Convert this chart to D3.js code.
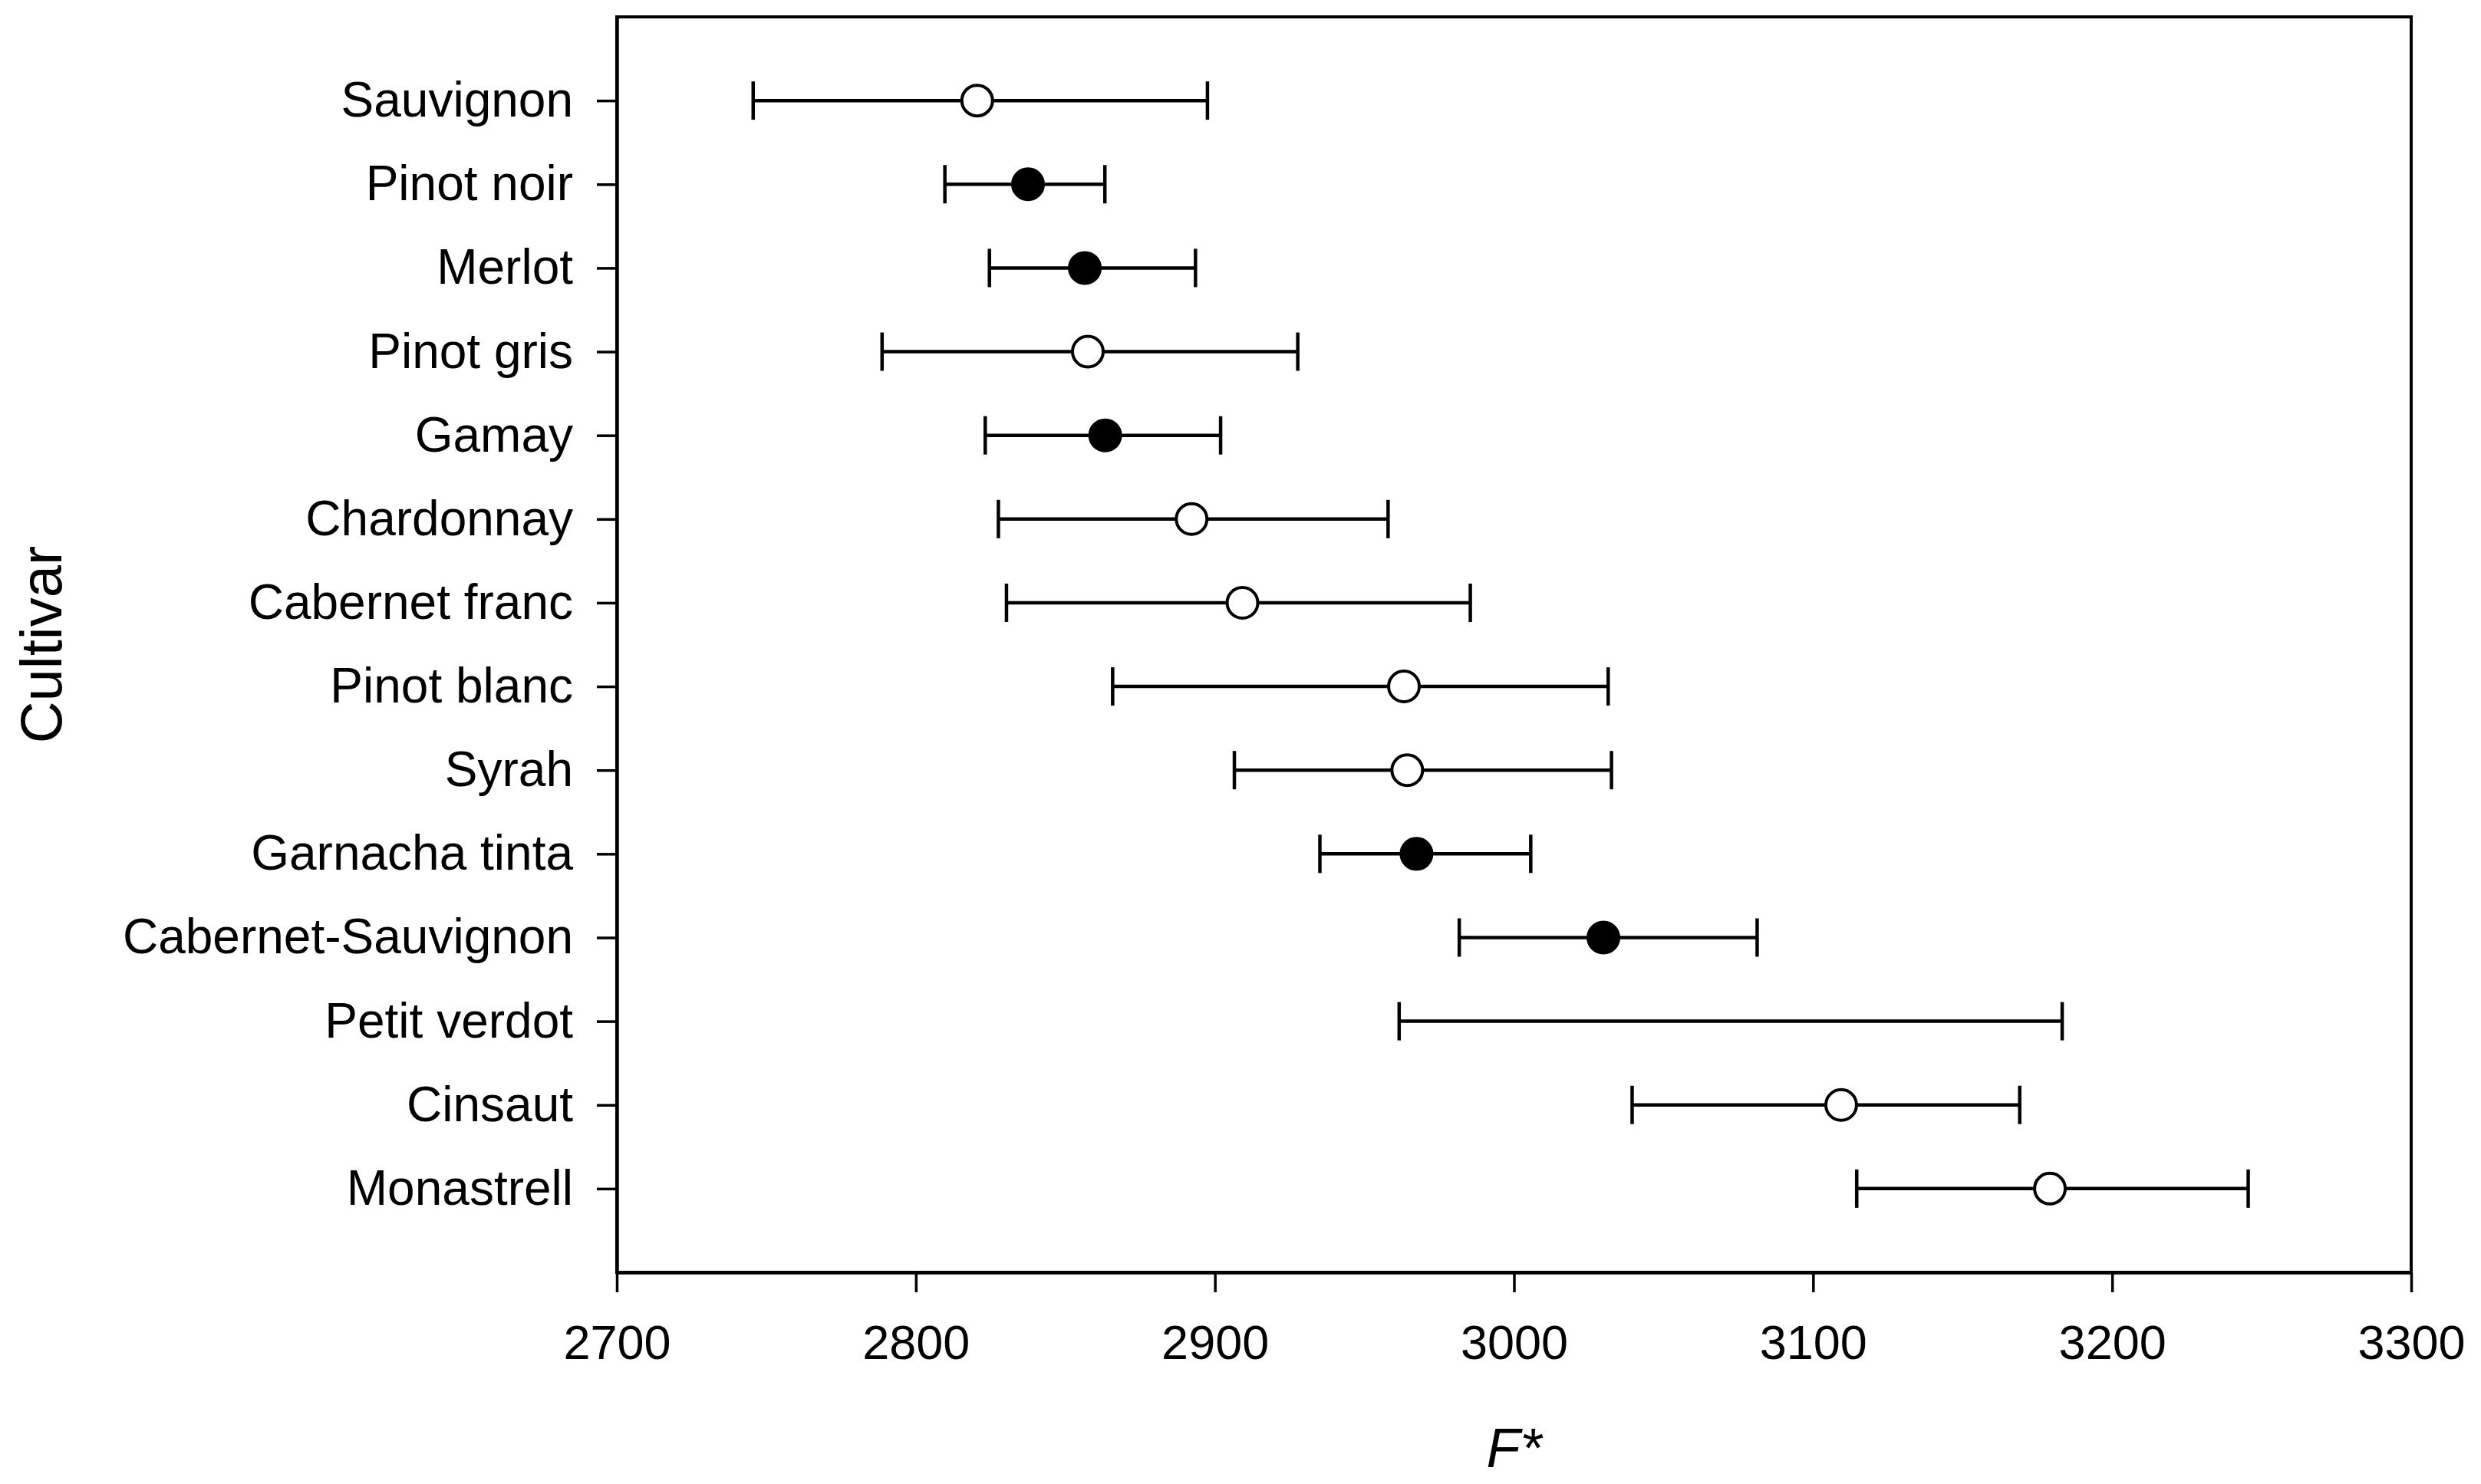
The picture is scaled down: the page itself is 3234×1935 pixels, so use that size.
<!DOCTYPE html>
<html>
<head>
<meta charset="utf-8">
<script src="https://cdn.jsdelivr.net/npm/d3@7"></script>
<style>
  body { margin: 0; background: #fff; }
  svg { display: block; }
  text { font-family: "Liberation Sans", Arial, sans-serif; fill: #000; }
</style>
</head>
<body>
<svg id="chart"></svg>
<script>
// cultivars, top to bottom
var cultivars = ["Sauvignon", "Pinot noir", "Merlot", "Pinot gris", "Gamay", "Chardonnay",
    "Cabernet franc", "Pinot blanc", "Syrah", "Garnacha tinta", "Cabernet-Sauvignon",
    "Petit verdot", "Cinsaut", "Monastrell"];
var meanF = [2820.5, 2837.5, 2856.5, 2857.5, 2863.3, 2892.2, 2909.2, 2963.2, 2964.3, 2967.4,
    3029.9, null, 3109.4, 3179.2];
var lowF = [2745.6, 2809.7, 2824.6, 2788.7, 2823.2, 2827.6, 2830.3, 2865.8, 2906.5, 2935.1,
    2981.7, 2961.6, 3039.5, 3114.6];
var highF = [2897.5, 2863.2, 2893.5, 2927.7, 2901.9, 2957.9, 2985.4, 3031.5, 3032.6, 3005.6,
    3081.3, 3183.3, 3169.1, 3245.5];
// filled marker = 1, open = 0
var filled = [0, 1, 1, 0, 1, 0, 0, 0, 0, 1, 1, 0, 0, 0];
var xTicks = [2700, 2800, 2900, 3000, 3100, 3200, 3300];

var W = 3234, H = 1935;
var margin = {top: 22, right: 91, bottom: 276, left: 804};
var width = W - margin.left - margin.right;
var height = H - margin.top - margin.bottom;

var svg = d3.select("#chart").attr("width", W).attr("height", H);
var g = svg.append("g").attr("transform", "translate(" + margin.left + "," + margin.top + ")");

var x = d3.scaleLinear().domain([2700, 3300]).range([0, width]);
var y = d3.scalePoint().domain(cultivars).range([0, height]).padding(1);

var rows = cultivars.map(function(name, i){
    return {name: name, mean: meanF[i], low: lowF[i], high: highF[i], filled: filled[i]};
});

// frame
g.append("rect")
    .attr("x", 0).attr("y", 0)
    .attr("width", width).attr("height", height)
    .attr("fill", "none")
    .attr("stroke", "#000")
    .attr("stroke-width", 4);

// x axis
var xAxis = g.append("g")
    .attr("transform", "translate(0," + height + ")")
    .call(d3.axisBottom(x).tickValues(xTicks).tickFormat(d3.format("d"))
        .tickSize(26).tickSizeOuter(0).tickPadding(42));
xAxis.select(".domain").attr("stroke-width", 4.5);
xAxis.selectAll(".tick line").attr("stroke-width", 3.5);
xAxis.selectAll("text").style("font-size", "63px").attr("font-family", null);

// y axis
var yAxis = g.append("g")
    .call(d3.axisLeft(y).tickSize(26).tickSizeOuter(0).tickPadding(31));
yAxis.select(".domain").attr("stroke-width", 4.5);
yAxis.selectAll(".tick line").attr("stroke-width", 3.5);
yAxis.selectAll("text").style("font-size", "64px").attr("font-family", null);

// error bars
var bars = g.selectAll("g.bar").data(rows).enter().append("g").attr("class", "bar");
bars.append("line")
    .attr("x1", function(d){ return x(d.low); })
    .attr("x2", function(d){ return x(d.high); })
    .attr("y1", function(d){ return y(d.name); })
    .attr("y2", function(d){ return y(d.name); })
    .attr("stroke", "#000").attr("stroke-width", 4.5);
["low", "high"].forEach(function(k){
    bars.append("line")
        .attr("x1", function(d){ return x(d[k]); })
        .attr("x2", function(d){ return x(d[k]); })
        .attr("y1", function(d){ return y(d.name) - 25; })
        .attr("y2", function(d){ return y(d.name) + 25; })
        .attr("stroke", "#000").attr("stroke-width", 4.5);
});

// means
g.selectAll("circle.mean")
    .data(rows.filter(function(d){ return d.mean != null; }))
    .enter().append("circle")
    .attr("class", "mean")
    .attr("cx", function(d){ return x(d.mean); })
    .attr("cy", function(d){ return y(d.name); })
    .attr("r", 20)
    .attr("fill", function(d){ return d.filled ? "#000" : "#fff"; })
    .attr("stroke", "#000")
    .attr("stroke-width", 4);

// axis titles
svg.append("text")
    .attr("x", margin.left + width / 2)
    .attr("y", 1913)
    .attr("text-anchor", "middle")
    .style("font-size", "72px")
    .style("font-style", "italic")
    .text("F*");

svg.append("text")
    .attr("transform", "translate(80," + (margin.top + height / 2) + ") rotate(-90)")
    .attr("text-anchor", "middle")
    .style("font-size", "76px")
    .text("Cultivar");
</script>
</body>
</html>
